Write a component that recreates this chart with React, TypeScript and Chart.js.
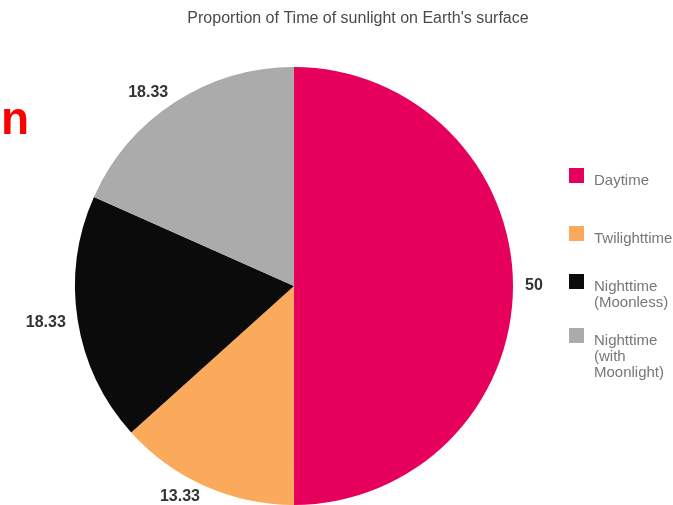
import React, { useEffect, useRef } from "react";
import { Chart, registerables } from "chart.js";

Chart.register(...registerables);

const TITLE = "Proportion of Time of sunlight on Earth's surface";
const categories = ["Daytime", "Twilighttime", "Nighttime (Moonless)", "Nighttime (with Moonlight)"];
const legendLines = [["Daytime"], ["Twilighttime"], ["Nighttime", "(Moonless)"], ["Nighttime", "(with", "Moonlight)"]];
const values = [50, 13.33, 18.33, 18.33];
const valueLabels = ["50", "13.33", "18.33", "18.33"];
const colors = ["#E6005C", "#FBA95A", "#0B0B0B", "#ABABAB"];
const legendSquareTops = [168, 226, 274, 328];

const overlayPlugin = {
  id: "overlay",
  afterDraw(chart: any) {
    const ctx = chart.ctx;
    ctx.save();
    // title
    ctx.font = "16px Arial, 'Liberation Sans', sans-serif";
    ctx.fillStyle = "#4a4a4a";
    ctx.textAlign = "center";
    ctx.textBaseline = "middle";
    ctx.fillText(TITLE, 358, 19);

    // value labels
    const meta = chart.getDatasetMeta(0);
    ctx.font = "bold 16px Arial, 'Liberation Sans', sans-serif";
    ctx.fillStyle = "#333";
    meta.data.forEach((arc: any, i: number) => {
      const p = arc.getProps(["x", "y", "startAngle", "endAngle", "outerRadius"], true);
      const a = (p.startAngle + p.endAngle) / 2;
      const r = p.outerRadius + 12;
      const x = p.x + Math.cos(a) * r;
      const y = p.y + Math.sin(a) * r;
      ctx.textAlign = Math.cos(a) >= 0 ? "left" : "right";
      ctx.textBaseline = "middle";
      ctx.fillText(valueLabels[i], x, y);
    });

    // legend
    ctx.font = "15px Arial, 'Liberation Sans', sans-serif";
    ctx.textAlign = "left";
    ctx.textBaseline = "middle";
    legendLines.forEach((lines, i) => {
      const top = legendSquareTops[i];
      ctx.fillStyle = colors[i];
      ctx.fillRect(569, top, 15, 15);
      ctx.fillStyle = "#777";
      lines.forEach((ln, j) => {
        ctx.fillText(ln, 594, top + 13 + j * 16);
      });
    });
    ctx.restore();
  },
};

export default function App() {
  const ref = useRef<HTMLCanvasElement | null>(null);
  useEffect(() => {
    document.body.style.margin = "0";
    if (!ref.current) return;
    const chart = new Chart(ref.current, {
      type: "pie",
      data: {
        labels: categories,
        datasets: [
          {
            data: values,
            backgroundColor: colors,
            borderWidth: 0,
          },
        ],
      },
      options: {
        animation: false,
        responsive: false,
        maintainAspectRatio: false,
        layout: { padding: { top: 67, bottom: 0, left: 75, right: 160 } },
        plugins: {
          legend: { display: false },
          title: { display: false },
          tooltip: { enabled: false },
        },
      },
      plugins: [overlayPlugin],
    });
    return () => chart.destroy();
  }, []);
  return (
    <div style={{ position: "relative", width: 673, height: 505, background: "#fff", overflow: "hidden" }}>
      <canvas ref={ref} width={673} height={505} style={{ display: "block" }} />
      <div
        style={{
          position: "absolute",
          left: 1,
          top: 95,
          color: "#FF0000",
          fontFamily: "Arial, 'Liberation Sans', sans-serif",
          fontWeight: "bold",
          fontSize: 46,
          lineHeight: "46px",
        }}
      >
        n
      </div>
    </div>
  );
}
